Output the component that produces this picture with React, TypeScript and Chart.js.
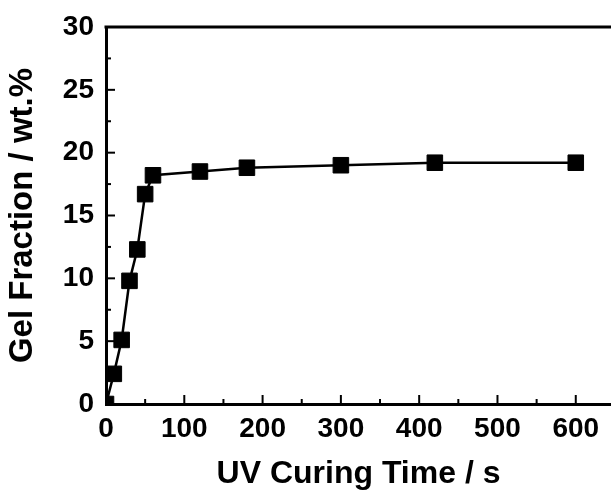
import React, { useEffect, useRef } from "react";
import { Chart, registerables } from "chart.js";

Chart.register(...registerables);

const curingTime = [0, 10, 20, 30, 40, 50, 60, 120, 180, 300, 420, 600];
const gelFraction = [0, 2.4, 5.1, 9.8, 12.3, 16.7, 18.2, 18.5, 18.8, 19.0, 19.2, 19.2];
const xTitle = "UV Curing Time / s";
const yTitle = "Gel Fraction / wt.%";

const FONT = "'Liberation Sans', Arial, sans-serif";

const axisDecor = {
  id: "axisDecor",
  afterDraw(chart: any) {
    const { ctx, chartArea, scales } = chart;
    const { left, right, top, bottom } = chartArea;
    const xs = scales.x;
    const ys = scales.y;
    ctx.save();
    ctx.strokeStyle = "#000";
    ctx.lineCap = "butt";
    ctx.lineWidth = 3;
    ctx.beginPath();
    ctx.moveTo(left - 1.5, top);
    ctx.lineTo(right, top);
    ctx.stroke();
    ctx.lineWidth = 2;
    const major = 9;
    const minor = 5;
    const drawX = (v: number, len: number) => {
      const px = xs.getPixelForValue(v);
      ctx.beginPath();
      ctx.moveTo(px, bottom);
      ctx.lineTo(px, bottom - len);
      ctx.stroke();
    };
    const drawY = (v: number, len: number) => {
      const py = ys.getPixelForValue(v);
      ctx.beginPath();
      ctx.moveTo(left, py);
      ctx.lineTo(left + len, py);
      ctx.stroke();
    };
    const xt = xs.ticks.map((t: any) => t.value);
    const xStep = xt.length > 1 ? xt[1] - xt[0] : 100;
    xt.forEach((v: number) => {
      drawX(v, major);
      if (v + xStep / 2 <= xs.max) drawX(v + xStep / 2, minor);
    });
    const yt = ys.ticks.map((t: any) => t.value);
    const yStep = yt.length > 1 ? yt[1] - yt[0] : 5;
    yt.forEach((v: number) => {
      drawY(v, major);
      if (v + yStep / 2 <= ys.max) drawY(v + yStep / 2, minor);
    });
    ctx.restore();
  },
};

export default function App() {
  const ref = useRef<HTMLCanvasElement | null>(null);
  useEffect(() => {
    if (!ref.current) return;
    const chart = new Chart(ref.current, {
      type: "line",
      data: {
        datasets: [
          {
            data: curingTime.map((x, i) => ({ x, y: gelFraction[i] })),
            borderColor: "#000",
            borderWidth: 2.5,
            backgroundColor: "#000",
            pointStyle: "rect",
            pointRadius: 11,
            pointBorderWidth: 1,
            pointBackgroundColor: "#000",
            pointBorderColor: "#000",
            tension: 0,
          },
        ],
      },
      options: {
        responsive: false,
        animation: false,
        devicePixelRatio: 1,
        layout: { autoPadding: false, padding: { top: 27, right: 0, left: 0, bottom: 0 } },
        plugins: { legend: { display: false }, tooltip: { enabled: false } },
        scales: {
          x: {
            type: "linear",
            min: 0,
            max: 645,
            grid: { display: false },
            border: { display: true, color: "#000", width: 3 },
            ticks: {
              stepSize: 100,
              includeBounds: false,
              color: "#000",
              padding: 0,
              maxRotation: 0,
              font: { family: FONT, size: 28, weight: "bold" },
            },
            title: {
              display: true,
              text: xTitle,
              color: "#000",
              padding: { top: 0, bottom: 1 },
              font: { family: FONT, size: 32, weight: "bold" },
            },
            afterFit: (s: any) => {
              s.height = 90;
              s.paddingRight = 0;
              s.paddingLeft = 0;
            },
          },
          y: {
            type: "linear",
            min: 0,
            max: 30,
            grid: { display: false },
            border: { display: true, color: "#000", width: 3 },
            ticks: {
              stepSize: 5,
              color: "#000",
              padding: 4,
              font: { family: FONT, size: 28, weight: "bold" },
            },
            title: {
              display: true,
              text: yTitle,
              color: "#000",
              padding: { top: 3, bottom: 0 },
              font: { family: FONT, size: 33, weight: "bold" },
            },
            afterFit: (s: any) => {
              s.width = 106;
              s.paddingTop = 0;
              s.paddingBottom = 0;
            },
          },
        },
      },
      plugins: [axisDecor],
    });
    return () => chart.destroy();
  }, []);
  return (
    <div style={{ position: "fixed", left: 0, top: 0, width: 611, height: 494, background: "#fff" }}>
      <canvas ref={ref} width={611} height={494} style={{ display: "block" }} />
    </div>
  );
}
